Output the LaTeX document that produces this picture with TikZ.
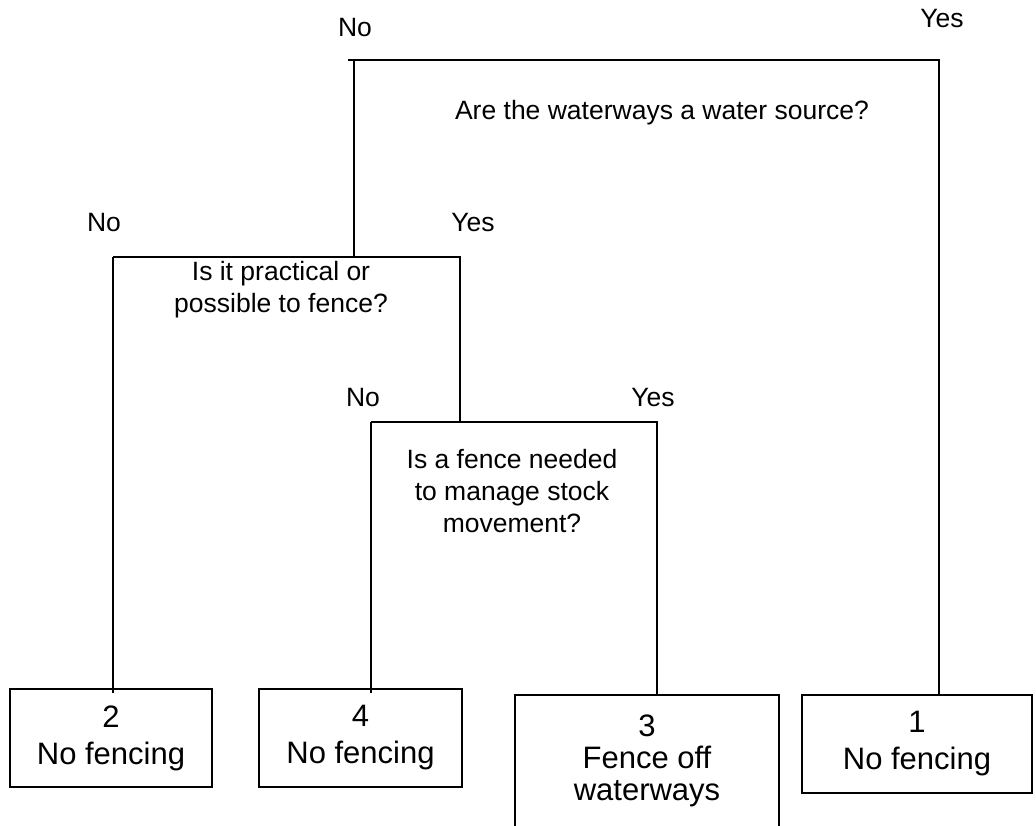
\documentclass[tikz,border=0pt]{standalone}
\usepackage{fontspec}
\setmainfont{Liberation Sans}
\usepackage{tikz}

\tikzset{
  ask/.style={align=center, inner sep=0pt, font=\fontsize{26.5}{32}\selectfont},
  ans/.style={inner sep=0pt, font=\fontsize{26.5}{32}\selectfont},
  outbox/.style={draw, rectangle, align=center, inner sep=0pt,
    minimum height=98pt, font=\fontsize{31}{37}\selectfont}
}

\begin{document}
\begin{tikzpicture}[x=1pt, y=-1pt, line width=1.5pt]
\useasboundingbox (0,0) rectangle (1036,826);

  % the four outcomes
  \node[outbox, minimum width=202pt] (o2) at (111,738) {2\\No fencing};
  \node[outbox, minimum width=203pt] (o4) at (360.5,738) {4\\No fencing};
  \node[outbox, minimum width=264pt, minimum height=150pt, anchor=north] (o3) at (647,694) {};
  \node[outbox, draw=none, font=\fontsize{31}{32}\selectfont] (o3t) at (647,761) {3\\Fence off\\waterways};
  \node[outbox, minimum width=230pt] (o1) at (917,744) {1\\No fencing};

  % the questions
  \node[ask] (q1) at (662,113) {Are the waterways a water source?};
  \node[ask] (q2) at (281,290) {Is it practical or\\possible to fence?};
  \node[ask] (q3) at (512,491) {Is a fence needed\\to manage stock\\movement?};

  \coordinate (q1tip) at (348,60);
  \coordinate (q1l) at (354,60);
  \coordinate (q1r) at (939,60);
  \coordinate (q2l) at (113,257);
  \coordinate (q2r) at (460,257);
  \coordinate (q3l) at (371,422);
  \coordinate (q3r) at (657,422);

  \draw
   (q1tip) -- (q1r) -- (q1r |- o1.north)
   (q1l) -- (q1l |- q2l)
   (q2l) -- (q2r) -- (q2r |- q3l)
   (q2l) -- ([yshift=-5pt]q2l |- o2.north)
   (q3l) -- (q3r) -- (q3r |- o3.north)
   (q3l) -- ([yshift=-5pt]q3l |- o4.north);

  \node[ans] (n1) at (355,28) {No};
  \node[ans] (y1) at (942,19) {Yes};
  \node[ans] (n2) at (104,223) {No};
  \node[ans] (y2) at (473,223) {Yes};
  \node[ans] (n3) at (363,398) {No};
  \node[ans] (y3) at (653,398) {Yes};
\end{tikzpicture}
\end{document}
